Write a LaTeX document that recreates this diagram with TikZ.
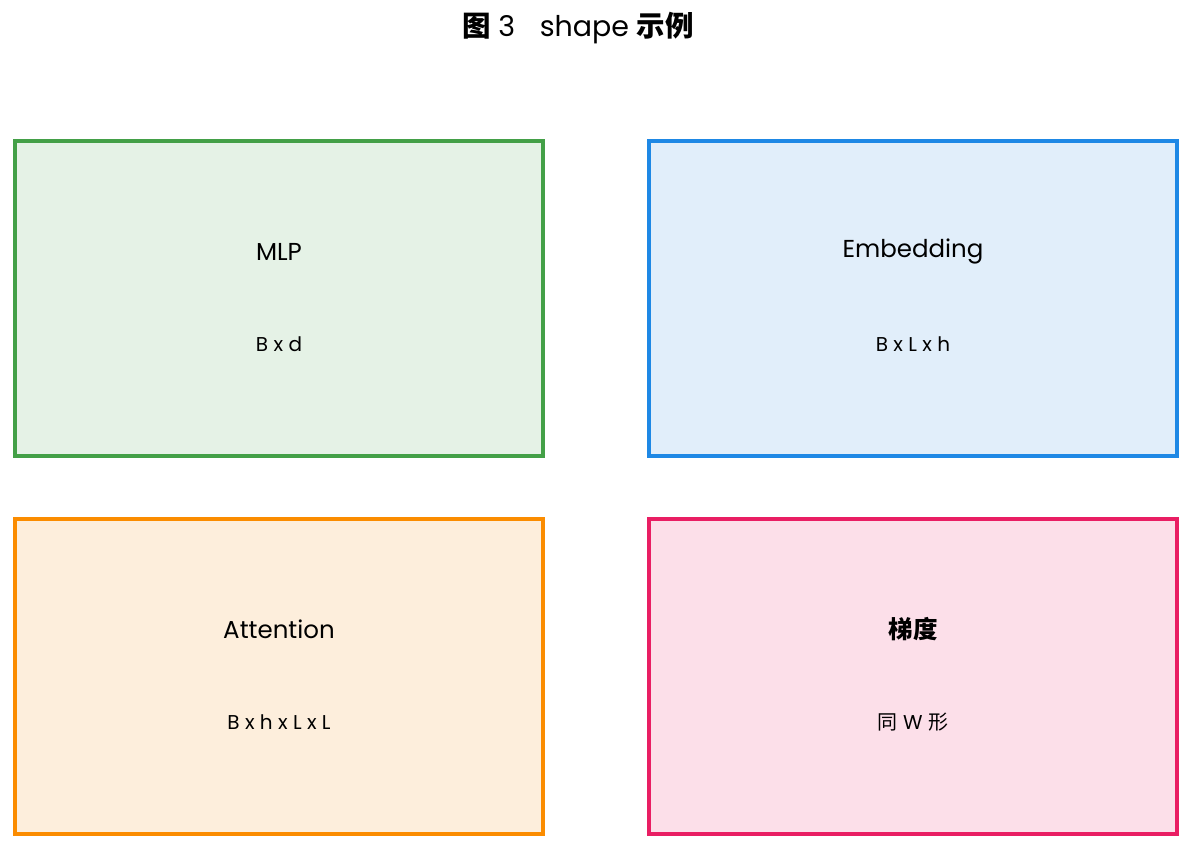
\documentclass[tikz,border=0pt]{standalone}
\usepackage{fontspec}
\setmainfont{Poppins}
\newfontfamily\cjk{Noto Sans CJK SC}
\definecolor{gB}{HTML}{43A047}\definecolor{gF}{HTML}{E5F2E6}
\definecolor{bB}{HTML}{1E88E5}\definecolor{bF}{HTML}{E1EEFA}
\definecolor{oB}{HTML}{FB8C00}\definecolor{oF}{HTML}{FDEEDC}
\definecolor{pB}{HTML}{E91E63}\definecolor{pF}{HTML}{FCDFE9}
\begin{document}
\begin{tikzpicture}[x=1pt,y=-1pt,
  panel/.style={draw=#1B,fill=#1F,line width=4pt,minimum width=528pt,minimum height=315pt,inner sep=0pt,outer sep=0pt,anchor=north west},
  heading/.style={font=\fontsize{24.5}{28}\selectfont},
  dims/.style={font=\fontsize{20}{23}\selectfont}]
\useasboundingbox (0,0) rectangle (1192,849);
\node[font=\fontsize{28.5}{32}\selectfont] (title) at (578,28) {{\cjk\bfseries 图} 3\hspace{0.6em} shape {\cjk\bfseries 示例}};
\node[panel=g] (mlp) at (14.7,141) {};
\node[panel=b] (emb) at (649,141) {};
\node[panel=o] (att) at (14.7,518.7) {};
\node[panel=p] (grad) at (649,518.7) {};
\node[heading] (mlpT) at (279,251.5) {MLP};
\node[dims] (mlpD) at (279,344.5) {B x d};
\node[heading] (embT) at (913,251.5) {Embedding};
\node[dims] (embD) at (913,344.5) {B x L x h};
\node[heading] (attT) at (279,629.5) {Attention};
\node[dims] (attD) at (279,722.5) {B x h x L x L};
\node[heading] (gradT) at (913,629.5) {\cjk\bfseries 梯度};
\node[dims] (gradD) at (913,722.5) {{\cjk 同} W {\cjk 形}};
\end{tikzpicture}
\end{document}
